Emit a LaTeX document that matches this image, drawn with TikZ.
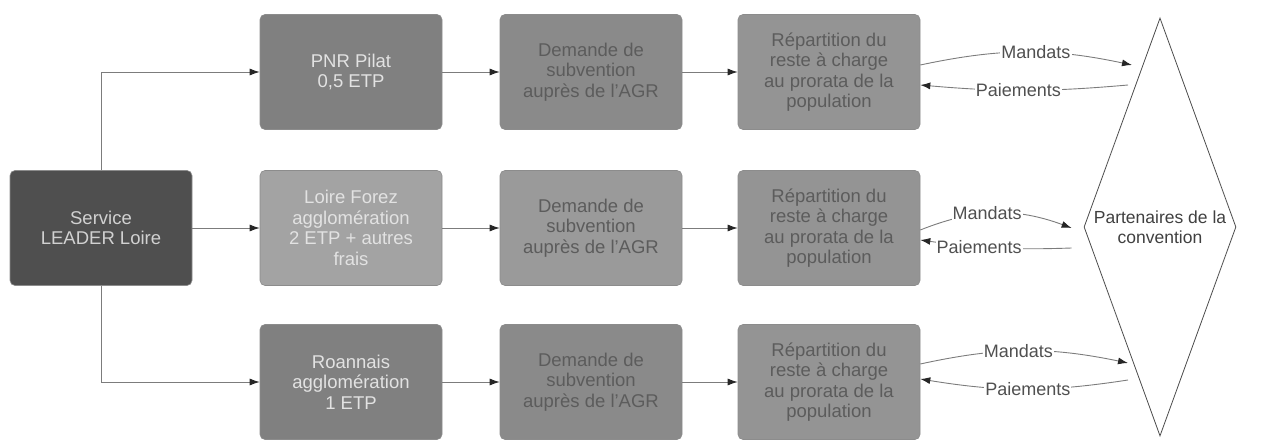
\documentclass[tikz,border=0pt]{standalone}
\usepackage{fontspec}
\setmainfont{Liberation Sans}
\usetikzlibrary{shapes.geometric,arrows.meta,calc}
\definecolor{cserv}{HTML}{4F4F4F}
\definecolor{cpnr}{HTML}{808080}
\definecolor{cloire}{HTML}{A3A3A3}
\definecolor{cdem}{HTML}{8A8A8A}
\definecolor{cdemb}{HTML}{9A9A9A}
\definecolor{crep}{HTML}{949494}
\definecolor{ctxtdark}{HTML}{5C5C5C}
\definecolor{ctxtlight}{HTML}{E2E2E2}
\definecolor{cline}{HTML}{7C7C7C}
\definecolor{clab}{HTML}{505050}
\begin{document}
\begin{tikzpicture}[x=1pt,y=1pt,
  box/.style={rounded corners=5pt, draw=black!45, line width=0.6pt,
    minimum width=182pt, minimum height=115pt, align=center,
    font=\fontsize{18.5}{20.5}\selectfont, inner sep=2pt},
  lightbox/.style={box, text=ctxtlight},
  darkbox/.style={box, text=ctxtdark},
  link/.style={draw=cline, line width=0.9pt,
    -{Latex[length=10pt,width=7pt,color=black!85]}},
  lab/.style={fill=white, inner sep=1pt, text=clab,
    font=\fontsize{18}{19}\selectfont},
  partner/.style={diamond, draw=black!70, line width=0.8pt,
    minimum width=152pt, minimum height=418pt, inner sep=0pt}
]
\useasboundingbox (0,0) rectangle (1270,442);

% left node
\node[lightbox, fill=cserv, text=black!18] (S) at (101,214) {Service\\LEADER Loire};

% column 1
\node[lightbox, fill=cpnr] (A1) at (351,370) {PNR Pilat\\0,5 ETP};
\node[lightbox, fill=cloire] (A2) at (351,214) {Loire Forez\\agglomération\\2 ETP + autres\\frais};
\node[lightbox, fill=cpnr] (A3) at (351,60) {Roannais\\agglomération\\1 ETP};

% column 2
\node[darkbox, fill=cdem] (B1) at (591,370) {Demande de\\subvention\\auprès de l'AGR};
\node[darkbox, fill=cdemb] (B2) at (591,214) {Demande de\\subvention\\auprès de l'AGR};
\node[darkbox, fill=cdem] (B3) at (591,60) {Demande de\\subvention\\auprès de l'AGR};

% column 3
\node[darkbox, fill=crep] (C1) at (829,370) {Répartition du\\reste à charge\\au prorata de la\\population};
\node[darkbox, fill=crep] (C2) at (829,214) {Répartition du\\reste à charge\\au prorata de la\\population};
\node[darkbox, fill=crep] (C3) at (829,60) {Répartition du\\reste à charge\\au prorata de la\\population};

% partners diamond
\node[partner] (P) at (1160,215) {};
\node[align=center, text=black!75, font=\fontsize{17.5}{20.5}\selectfont] (PT) at (P.center) {Partenaires de la\\convention};

% connectors from the service
\draw[link] (S.north) |- (A1.west);
\draw[link] (S.east) -- (A2.west);
\draw[link] (S.south) |- (A3.west);

% row connectors
\foreach \r in {1,2,3}{
  \draw[link] (A\r.east) -- (B\r.west);
  \draw[link] (B\r.east) -- (C\r.west);
}

% end points near the diamond
\coordinate (M1) at ($(P.center)+(-28,162)$);
\coordinate (Q1) at ($(P.center)+(-32,142)$);
\coordinate (M2) at ($(P.west)+(-12,-1)$);
\coordinate (Q2) at ($(P.west)+(-12,-21)$);
\coordinate (M3) at ($(P.center)+(-32,-136)$);
\coordinate (Q3) at ($(P.center)+(-32,-153)$);

% row 1
\draw[link] ([yshift=7pt]C1.east) to[bend left=12] node[lab, pos=0.55] {Mandats} (M1);
\draw[link] (Q1) to[bend left=5] node[lab, pos=0.53] {Paiements} ([yshift=-13pt]C1.east);
% row 2
\draw[link] ([yshift=-2pt]C2.east) to[bend left=21] node[lab, pos=0.44] {Mandats} (M2);
\draw[link] (Q2) to[bend left=5] node[lab, pos=0.62] {Paiements} ([yshift=-12pt]C2.east);
% row 3
\draw[link] ([yshift=18pt]C3.east) to[bend left=12] node[lab, pos=0.47] {Mandats} (M3);
\draw[link] (Q3) to[bend left=9] node[lab, pos=0.48] {Paiements} ([yshift=3pt]C3.east);
\end{tikzpicture}
\end{document}
